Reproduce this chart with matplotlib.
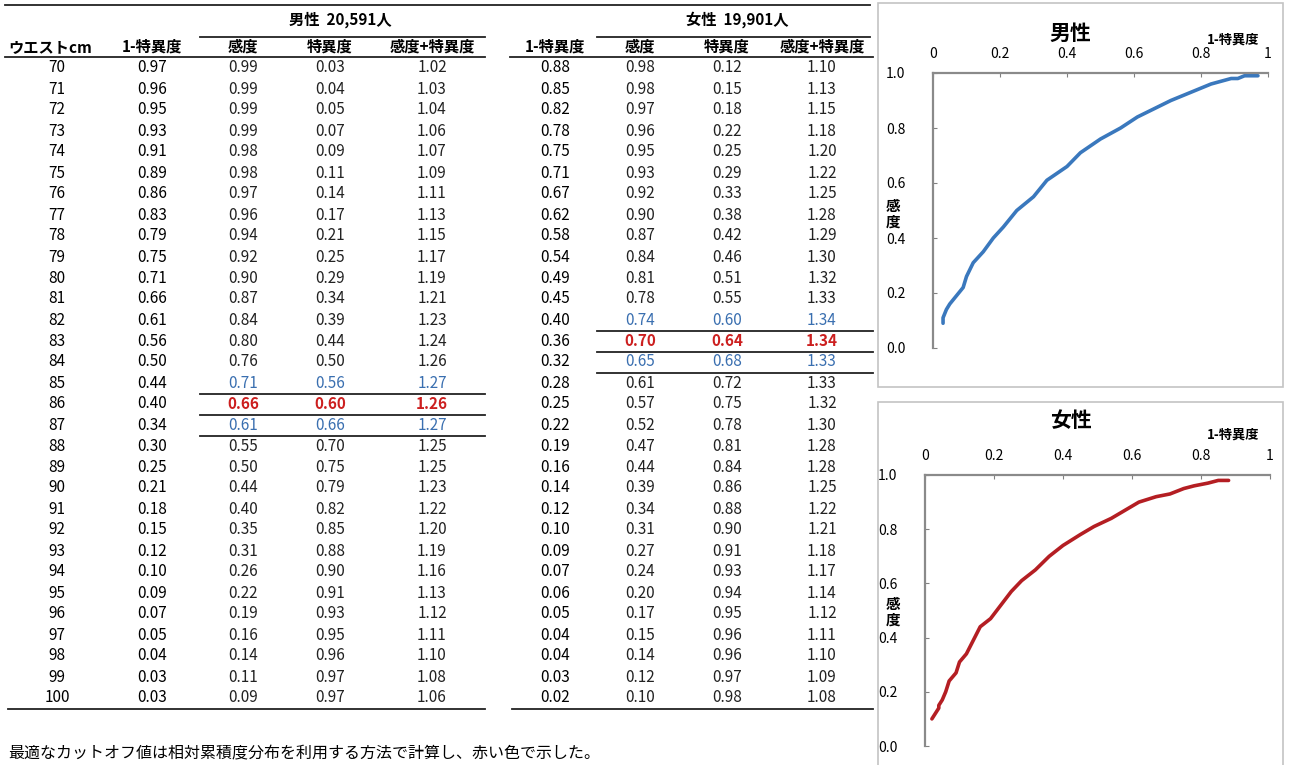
import matplotlib
matplotlib.use("Agg")
import matplotlib.pyplot as plt
from matplotlib.lines import Line2D
from matplotlib.patches import Rectangle

plt.rcParams['font.family'] = ['Noto Sans CJK JP', 'DejaVu Sans']

W, H = 1290, 765

# table data
waist = list(range(70, 101))
male_fpr = [0.97, 0.96, 0.95, 0.93, 0.91, 0.89, 0.86, 0.83, 0.79, 0.75, 0.71, 0.66, 0.61, 0.56, 0.50, 0.44,
            0.40, 0.34, 0.30, 0.25, 0.21, 0.18, 0.15, 0.12, 0.10, 0.09, 0.07, 0.05, 0.04, 0.03, 0.03]
male_sens = [0.99, 0.99, 0.99, 0.99, 0.98, 0.98, 0.97, 0.96, 0.94, 0.92, 0.90, 0.87, 0.84, 0.80, 0.76, 0.71,
             0.66, 0.61, 0.55, 0.50, 0.44, 0.40, 0.35, 0.31, 0.26, 0.22, 0.19, 0.16, 0.14, 0.11, 0.09]
male_spec = [0.03, 0.04, 0.05, 0.07, 0.09, 0.11, 0.14, 0.17, 0.21, 0.25, 0.29, 0.34, 0.39, 0.44, 0.50, 0.56,
             0.60, 0.66, 0.70, 0.75, 0.79, 0.82, 0.85, 0.88, 0.90, 0.91, 0.93, 0.95, 0.96, 0.97, 0.97]
male_sum = [1.02, 1.03, 1.04, 1.06, 1.07, 1.09, 1.11, 1.13, 1.15, 1.17, 1.19, 1.21, 1.23, 1.24, 1.26, 1.27,
            1.26, 1.27, 1.25, 1.25, 1.23, 1.22, 1.20, 1.19, 1.16, 1.13, 1.12, 1.11, 1.10, 1.08, 1.06]

female_fpr = [0.88, 0.85, 0.82, 0.78, 0.75, 0.71, 0.67, 0.62, 0.58, 0.54, 0.49, 0.45, 0.40, 0.36, 0.32, 0.28,
              0.25, 0.22, 0.19, 0.16, 0.14, 0.12, 0.10, 0.09, 0.07, 0.06, 0.05, 0.04, 0.04, 0.03, 0.02]
female_sens = [0.98, 0.98, 0.97, 0.96, 0.95, 0.93, 0.92, 0.90, 0.87, 0.84, 0.81, 0.78, 0.74, 0.70, 0.65, 0.61,
               0.57, 0.52, 0.47, 0.44, 0.39, 0.34, 0.31, 0.27, 0.24, 0.20, 0.17, 0.15, 0.14, 0.12, 0.10]
female_spec = [0.12, 0.15, 0.18, 0.22, 0.25, 0.29, 0.33, 0.38, 0.42, 0.46, 0.51, 0.55, 0.60, 0.64, 0.68, 0.72,
               0.75, 0.78, 0.81, 0.84, 0.86, 0.88, 0.90, 0.91, 0.93, 0.94, 0.95, 0.96, 0.96, 0.97, 0.98]
female_sum = [1.10, 1.13, 1.15, 1.18, 1.20, 1.22, 1.25, 1.28, 1.29, 1.30, 1.32, 1.33, 1.34, 1.34, 1.33, 1.33,
              1.32, 1.30, 1.28, 1.28, 1.25, 1.22, 1.21, 1.18, 1.17, 1.14, 1.12, 1.11, 1.10, 1.09, 1.08]

male_best = 86
female_best = 83
male_title = "男性  20,591人"
female_title = "女性  19,901人"
col_heads = ["1-特異度", "感度", "特異度", "感度+特異度"]
note = "最適なカットオフ値は相対累積度分布を利用する方法で計算し、赤い色で示した。"

BLUE = '#3a6fb0'
RED = '#cc1f1f'

fig = plt.figure(figsize=(W / 100, H / 100), dpi=100)
fig.patch.set_facecolor('white')


def px(x, y):
    return x / W, 1 - y / H


def text(x, y, s, **kw):
    fx, fy = px(x, y)
    kw.setdefault('ha', 'center')
    kw.setdefault('va', 'center')
    fig.text(fx, fy, s, **kw)


def hline(x0, x1, y, lw=1.3, color='#222222'):
    (a, b), (c, _) = px(x0, y), px(x1, y)
    fig.add_artist(Line2D([a, c], [b, b], lw=lw, color=color, transform=fig.transFigure))


# --- table frame lines
hline(5, 870, 5)
hline(200, 485, 37)
hline(597, 870, 37)
hline(5, 485, 57)
hline(510, 873, 57)
hline(8, 485, 709)
hline(512, 873, 709)

# headers
text(340, 20, male_title, fontsize=11, fontweight='bold')
text(737, 20, female_title, fontsize=11, fontweight='bold')
text(8, 47, "ウエストcm", fontsize=11, fontweight='bold', ha='left')
male_cols = [152, 243, 330, 432]
female_cols = [555, 640, 727, 822]
for h, xm, xf in zip(col_heads, male_cols, female_cols):
    text(xm, 47, h, fontsize=11, fontweight='bold')
    text(xf, 47, h, fontsize=11, fontweight='bold')

# body rows
row0, dy = 68, 21
for i, w in enumerate(waist):
    y = row0 + dy * i
    text(57, y, str(w), fontsize=11)

    text(male_cols[0], y, f"{male_fpr[i]:.2f}", fontsize=11)
    mcolor, mweight = '#222222', 'normal'
    if w == male_best:
        mcolor, mweight = RED, 'bold'
    elif abs(w - male_best) == 1:
        mcolor = BLUE
    for x, v in zip(male_cols[1:], [male_sens[i], male_spec[i], male_sum[i]]):
        text(x, y, f"{v:.2f}", fontsize=11, color=mcolor, fontweight=mweight)
    if abs(w - male_best) <= 1:
        hline(200, 485, y + 11)

    text(female_cols[0], y, f"{female_fpr[i]:.2f}", fontsize=11)
    fcolor, fweight = '#222222', 'normal'
    if w == female_best:
        fcolor, fweight = RED, 'bold'
    elif abs(w - female_best) == 1:
        fcolor = BLUE
    for x, v in zip(female_cols[1:], [female_sens[i], female_spec[i], female_sum[i]]):
        text(x, y, f"{v:.2f}", fontsize=11, color=fcolor, fontweight=fweight)
    if abs(w - female_best) <= 1:
        hline(597, 873, y + 11)

# note at the bottom
text(8, 745, note, fontsize=11.5, ha='left', va='top')


# --- ROC charts
def roc_panel(box, area, fpr, sens, color, title, title_y, xl_y, ylab_y):
    bx0, by0, bx1, by1 = box
    fx0, fy1 = px(bx0, by0)
    fx1, fy0 = px(bx1, by1)
    fig.add_artist(Rectangle((fx0, fy0), fx1 - fx0, fy1 - fy0, transform=fig.transFigure,
                             fill=False, edgecolor='#c4c4c4', lw=1.2))
    ax0, ay0, ax1, ay1 = area
    l, t = px(ax0, ay0)
    r, b = px(ax1, ay1)
    ax = fig.add_axes([l, b, r - l, t - b])
    ax.plot(fpr, sens, color=color, lw=2.6, solid_capstyle='round')
    ax.set_xlim(0, 1)
    ax.set_ylim(0, 1)
    ax.xaxis.tick_top()
    ax.set_xticks([0, 0.2, 0.4, 0.6, 0.8, 1])
    ax.set_xticklabels(["0", "0.2", "0.4", "0.6", "0.8", "1"])
    ax.set_yticks([0, 0.2, 0.4, 0.6, 0.8, 1.0])
    ax.set_yticklabels(["0.0", "0.2", "0.4", "0.6", "0.8", "1.0"])
    ax.tick_params(axis='both', labelsize=10, length=3, direction='in', color='#808080')
    ax.tick_params(axis='x', pad=9)
    ax.tick_params(axis='y', pad=20)
    for s in ['right', 'bottom']:
        ax.spines[s].set_visible(False)
    for s in ['left', 'top']:
        ax.spines[s].set_color('#8a8a8a')
        ax.spines[s].set_linewidth(1.6)
    text((bx0 + bx1) / 2 - 10, title_y, title, fontsize=15, fontweight='bold')
    text(1233, xl_y, "1-特異度", fontsize=9.5, fontweight='bold')
    text(893, ylab_y, "感\n度", fontsize=10.5, fontweight='bold', linespacing=1.0)
    return ax


roc_panel((878, 3, 1283, 387), (933, 73, 1268, 348), male_fpr, male_sens,
          '#3a78bd', "男性", 33, 40, 214)
roc_panel((878, 402, 1283, 775), (925, 475, 1270, 746), female_fpr, female_sens,
          '#b41e23', "女性", 420, 435, 612)

fig.savefig("out.png", dpi=100)
